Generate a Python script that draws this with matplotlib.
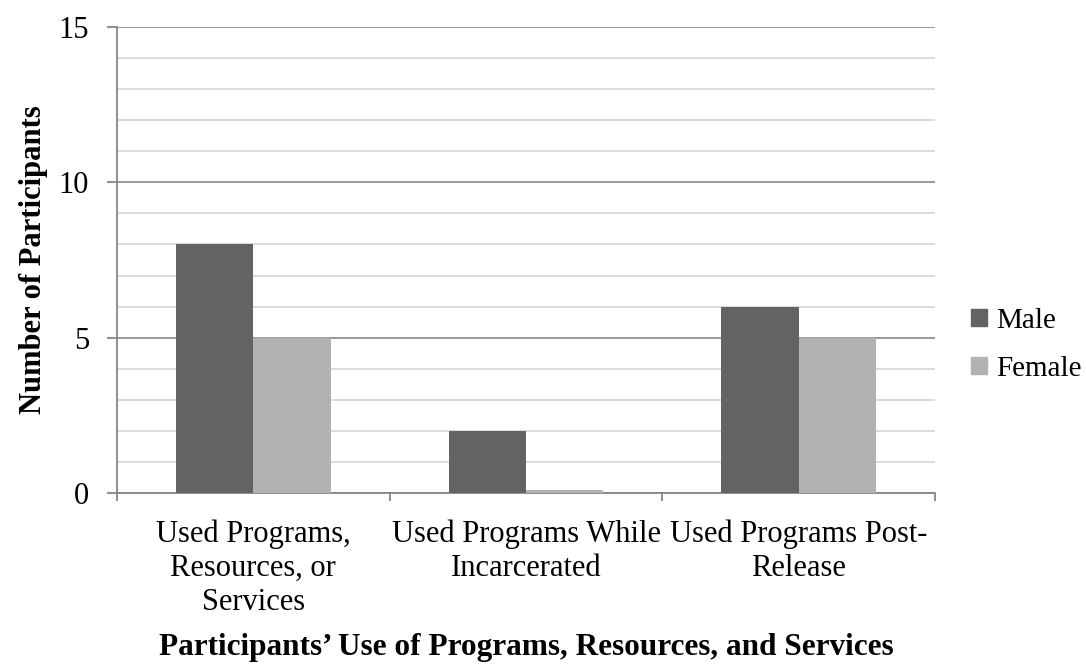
import numpy as np
import matplotlib.pyplot as plt
from matplotlib.ticker import MultipleLocator
from matplotlib.patches import Patch

# participant counts per category
categories = ["Used Programs,\nResources, or\nServices",
              "Used Programs While\nIncarcerated",
              "Used Programs Post-\nRelease"]
male = [8, 2, 6]
female = [5, 0.1, 5]

plt.rcParams['font.family'] = ['Liberation Serif', 'DejaVu Serif']

fig = plt.figure(figsize=(10.86, 6.66), dpi=100)
ax = fig.add_axes([0.1077, 0.2598, 0.7533, 0.6997])

x = np.arange(len(categories))
w = 0.284
ax.bar(x - w / 2, male, w, color="#636363", zorder=3)
ax.bar(x + w / 2, female, w, color="#b2b2b2", zorder=3)

ax.set_xlim(-0.5, len(categories) - 0.5)
ax.set_ylim(0, 15)
ax.yaxis.set_major_locator(MultipleLocator(5))
ax.yaxis.set_minor_locator(MultipleLocator(1))
ax.grid(axis="y", which="major", color="#868686", linewidth=1.2, zorder=0)
ax.grid(axis="y", which="minor", color="#d4d4d4", linewidth=1.2, zorder=0)

for side in ["top", "right"]:
    ax.spines[side].set_visible(False)
for side in ["left", "bottom"]:
    ax.spines[side].set_color("#868686")
    ax.spines[side].set_linewidth(1.3)

# category labels sit between boundary ticks
ax.set_xticks(np.arange(-0.5, len(categories)), minor=False)
ax.set_xticklabels([])
ax.set_xticks(x, minor=True)
ax.set_xticklabels(categories, minor=True, fontsize=22, linespacing=1.22)
ax.tick_params(axis="x", which="major", length=6, color="#868686", width=1.3)
ax.tick_params(axis="x", which="minor", length=0, pad=19)
ax.tick_params(axis="y", which="major", length=7, color="#868686", width=1.3,
               labelsize=22, pad=13)
ax.tick_params(axis="y", which="minor", length=0)

ax.set_ylabel("Number of Participants", fontsize=22, fontweight="bold", labelpad=8)
fig.text(0.4844, 11 / 666, "Participants\u2019 Use of Programs, Resources, and Services",
         fontsize=22.5, fontweight="bold", ha="center", va="baseline")

handles = [Patch(color="#636363", label="Male"), Patch(color="#b2b2b2", label="Female")]
ax.legend(handles=handles, loc="center left", bbox_to_anchor=(1.012, 0.318),
          frameon=False, fontsize=21, handlelength=0.55, handleheight=0.55,
          handletextpad=0.3, labelspacing=0.75)

fig.savefig("out.png", dpi=100)
